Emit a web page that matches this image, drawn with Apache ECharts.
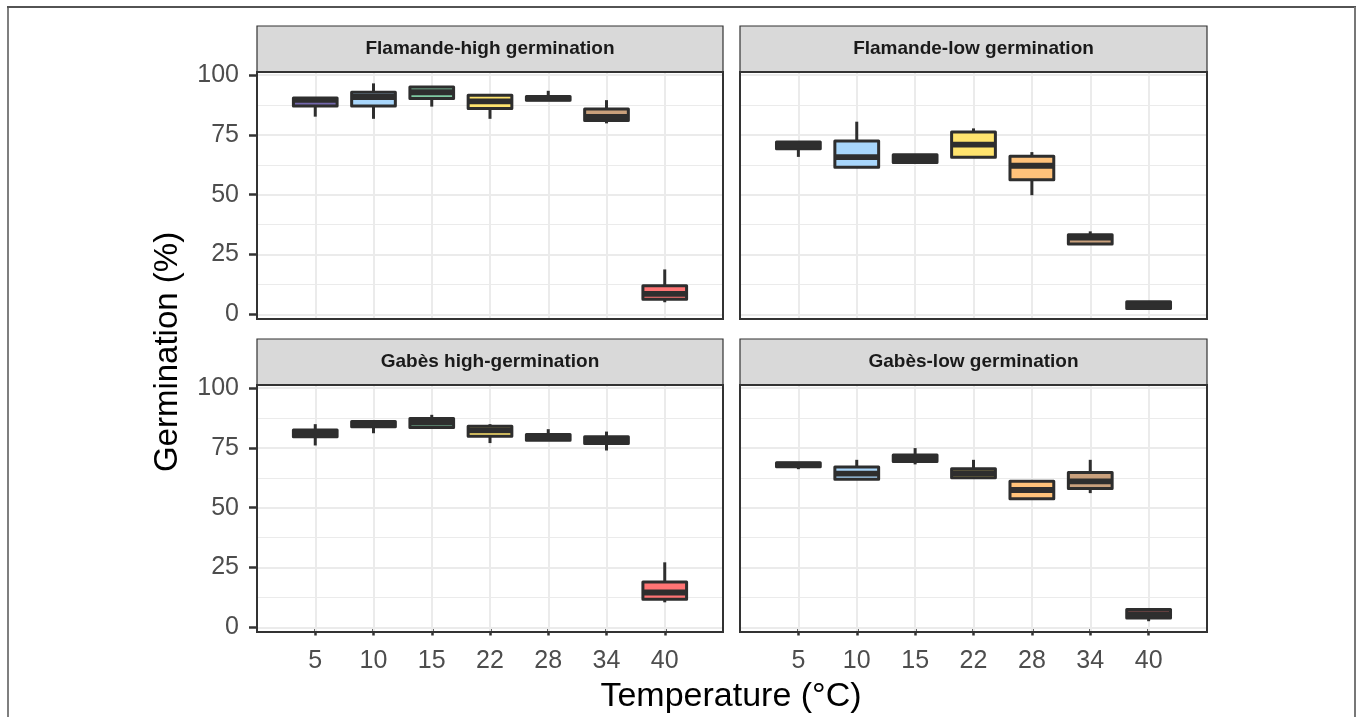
<!DOCTYPE html>
<html>
<head>
<meta charset="utf-8">
<script src="https://cdn.jsdelivr.net/npm/echarts@6/dist/echarts.min.js"></script>
<style>
html,body{margin:0;padding:0;background:#fff;}
#chart{width:1360px;height:717px;}
</style>
</head>
<body>
<div id="chart"></div>
<script>
// ---- data ----
const temps = ['5', '10', '15', '22', '28', '34', '40'];
const yTicks = [0, 25, 50, 75, 100];
const yMinor = [12.5, 37.5, 62.5, 87.5];
const panelTitles = ['Flamande-high germination', 'Flamande-low germination', 'Gabès high-germination', 'Gabès-low germination'];
const boxColors = ['#7367ad', '#a8d6fb', '#7fcaa2', '#ffe46e', '#ffc27a', '#c9a07c', '#ff7474'];
// each row: [min, Q1, median, Q3, max]
const flamandeHigh = [[82.6,87.0,89.6,90.4,90.4],[81.7,87.1,90.8,92.8,96.5],[86.8,90.2,92.8,95.0,95.0],[81.7,86.0,89.0,91.5,91.5],[89.5,89.5,90.2,91.0,93.4],[79.8,81.0,82.5,85.8,89.5],[5.1,6.4,8.6,12.0,18.8]];
const flamandeLow = [[65.8,69.2,70.6,72.0,72.0],[61.5,61.5,65.7,72.4,80.5],[63.5,63.5,65.0,66.7,66.7],[65.7,65.7,70.9,76.2,77.7],[49.8,56.3,62.1,66.1,67.8],[29.4,29.4,32.1,33.3,34.7],[2.5,2.5,3.9,5.3,5.3]];
const gabesHigh = [[76.0,79.6,81.0,82.5,84.9],[81.1,83.8,85.0,86.0,86.0],[83.5,83.5,85.5,87.3,88.8],[77.0,79.8,82.3,84.0,84.9],[78.2,78.2,79.5,80.6,82.8],[73.9,76.8,78.2,79.6,81.8],[10.5,11.8,14.6,19.0,27.2]];
const gabesLow = [[66.1,67.1,68.0,68.75,68.75],[61.9,61.9,64.2,67.0,70.0],[68.1,69.3,70.6,72.0,74.9],[62.5,62.5,64.4,66.25,70.0],[53.75,53.75,57.4,61.1,61.1],[56.1,58.0,61.0,64.75,70.0],[2.6,3.9,5.6,7.5,7.5]];
const panelData = [flamandeHigh, flamandeLow, gabesHigh, gabesLow];

// ---- layout ----
const FONT = '"Liberation Sans", Arial, Helvetica, sans-serif';
const grids = [
  {left: 257, top: 72, width: 466, height: 247},
  {left: 740, top: 72, width: 467, height: 247},
  {left: 257, top: 385, width: 466, height: 247},
  {left: 740, top: 385, width: 467, height: 247}
];
const stripH = 46;
const xPos = temps.map((t, i) => i + 1);

const chart = echarts.init(document.getElementById('chart'), null, {renderer: 'canvas'});

function renderBox(params, api) {
  const x = api.value(0);
  const lo = api.coord([x, api.value(1)]);
  const q1 = api.coord([x, api.value(2)]);
  const med = api.coord([x, api.value(3)]);
  const q3 = api.coord([x, api.value(4)]);
  const hi = api.coord([x, api.value(5)]);
  const w = api.size([0.75, 0])[0];
  const cx = lo[0];
  const color = boxColors[api.value(6)];
  const stroke = '#2e2e2e';
  const lw = 3;
  const children = [];
  if (hi[1] < q3[1] - 0.5) children.push({type: 'line', shape: {x1: cx, y1: hi[1], x2: cx, y2: q3[1]}, style: {stroke, lineWidth: lw}});
  if (lo[1] > q1[1] + 0.5) children.push({type: 'line', shape: {x1: cx, y1: q1[1], x2: cx, y2: lo[1]}, style: {stroke, lineWidth: lw}});
  children.push({type: 'rect', shape: {x: cx - w / 2, y: q3[1], width: w, height: q1[1] - q3[1]}, style: {fill: color, stroke, lineWidth: lw, lineJoin: 'round'}});
  children.push({type: 'line', shape: {x1: cx - w / 2, y1: med[1], x2: cx + w / 2, y2: med[1]}, style: {stroke, lineWidth: 5.8, lineCap: 'butt'}});
  return {type: 'group', children};
}

const xAxes = [], yAxes = [], series = [], graphics = [];
grids.forEach((g, i) => {
  const bottom = i >= 2, left = i % 2 === 0;
  xAxes.push({
    type: 'value', gridIndex: i, min: 0, max: 8,
    axisLine: {show: false}, splitLine: {show: false},
    axisTick: {show: bottom, customValues: xPos, length: 8, lineStyle: {color: '#333', width: 2.5}},
    axisLabel: {show: bottom, customValues: xPos, formatter: v => temps[Math.round(v) - 1] || '', fontSize: 25, color: '#4d4d4d', fontFamily: FONT, margin: 17}
  });
  yAxes.push({
    type: 'value', gridIndex: i, min: -1.9, max: 101.25,
    axisLine: {show: false}, splitLine: {show: false},
    axisTick: {show: left, customValues: yTicks, length: 8, lineStyle: {color: '#333', width: 2.5}},
    axisLabel: {show: left, customValues: yTicks, fontSize: 25, color: '#4d4d4d', fontFamily: FONT, margin: 18}
  });
  const lines = [];
  yMinor.forEach(v => lines.push({yAxis: v, lineStyle: {width: 1, color: '#ebebeb', type: 'solid'}}));
  yTicks.forEach(v => lines.push({yAxis: v, lineStyle: {width: 2, color: '#ebebeb', type: 'solid'}}));
  xPos.forEach(v => lines.push({xAxis: v, lineStyle: {width: 2, color: '#ebebeb', type: 'solid'}}));
  series.push({
    type: 'line', xAxisIndex: i, yAxisIndex: i, data: [], z: 1, silent: true,
    markLine: {silent: true, symbol: ['none', 'none'], label: {show: false}, animation: false, emphasis: {disabled: true}, data: lines}
  });
  series.push({
    type: 'custom', xAxisIndex: i, yAxisIndex: i, z: 5, silent: true,
    renderItem: renderBox,
    encode: {x: 0, y: [1, 2, 3, 4, 5]},
    data: panelData[i].map((r, k) => [xPos[k], r[0], r[1], r[2], r[3], r[4], k])
  });
  // strip
  graphics.push({type: 'rect', z: 100, shape: {x: g.left, y: g.top - stripH, width: g.width, height: stripH}, style: {fill: '#d9d9d9', stroke: '#333', lineWidth: 1.2}});
  graphics.push({type: 'text', z: 101, x: g.left + g.width / 2, y: g.top - stripH / 2, style: {text: panelTitles[i], font: 'bold 19px ' + FONT, fill: '#1a1a1a', align: 'center', verticalAlign: 'middle'}});
  // panel border
  graphics.push({type: 'rect', z: 100, shape: {x: g.left, y: g.top, width: g.width, height: g.height}, style: {fill: null, stroke: '#333', lineWidth: 2}});
});

// axis titles
graphics.push({type: 'text', z: 101, x: 731, y: 697, style: {text: 'Temperature (°C)', font: '34px ' + FONT, fill: '#000', align: 'center', verticalAlign: 'middle'}});
graphics.push({type: 'text', z: 101, x: 168, y: 352, rotation: Math.PI / 2, style: {text: 'Germination (%)', font: '33px ' + FONT, fill: '#000', align: 'center', verticalAlign: 'middle'}});
// outer frame
graphics.push({type: 'line', z: 100, shape: {x1: 7, y1: 7, x2: 1356, y2: 7}, style: {stroke: '#1a1a1a', lineWidth: 1.5}});
graphics.push({type: 'line', z: 100, shape: {x1: 8, y1: 7, x2: 8, y2: 717}, style: {stroke: '#555', lineWidth: 1.5}});
graphics.push({type: 'line', z: 100, shape: {x1: 1355, y1: 7, x2: 1355, y2: 717}, style: {stroke: '#777', lineWidth: 2}});

chart.setOption({
  animation: false,
  backgroundColor: '#ffffff',
  grid: grids.map(g => Object.assign({containLabel: false}, g)),
  xAxis: xAxes,
  yAxis: yAxes,
  series: series,
  graphic: {elements: graphics}
});
</script>
</body>
</html>
